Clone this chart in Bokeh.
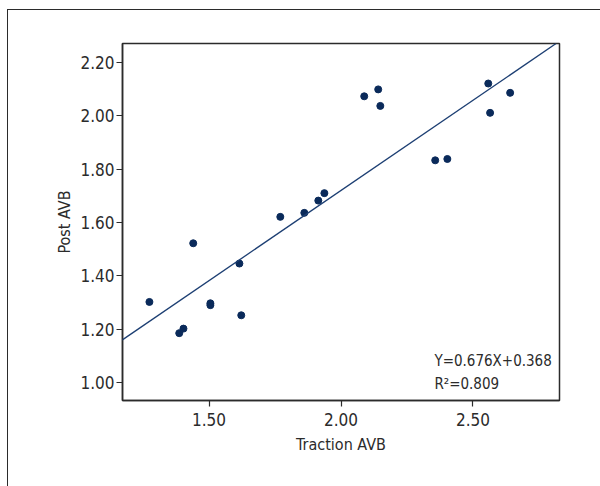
from bokeh.plotting import figure
from bokeh.models import Range1d, FixedTicker, NumeralTickFormatter, Label, Slope
from bokeh.embed import file_html
from bokeh.resources import INLINE

traction = [1.274, 1.387, 1.403, 1.440, 1.505, 1.505, 1.615, 1.622, 1.770, 1.861,
            1.914, 1.937, 2.088, 2.141, 2.149, 2.357, 2.403, 2.558, 2.565, 2.641]
post = [1.302, 1.185, 1.202, 1.522, 1.297, 1.290, 1.446, 1.252, 1.621, 1.636,
        1.682, 1.710, 2.073, 2.099, 2.037, 1.833, 1.838, 2.121, 2.011, 2.086]
slope_val = 0.676
intercept_val = 0.368
r2_val = 0.809
x_ticks = [1.5, 2.0, 2.5]
y_ticks = [1.0, 1.2, 1.4, 1.6, 1.8, 2.0, 2.2]

FONT = "'DejaVu Sans Condensed', Roboto, sans-serif"
DARK = "#2b2b2b"
NAVY = "#0a2a5a"

p = figure(width=593, height=477, output_backend="svg", toolbar_location=None,
           x_range=Range1d(1.172, 2.828), y_range=Range1d(0.9325, 2.271),
           min_border_left=114, min_border_right=42, min_border_top=33, min_border_bottom=87)
p.styles = {"border-left": "1.5px solid #2b2b2b", "border-top": "1.5px solid #2b2b2b",
            "margin-left": "7px", "margin-top": "9px"}

p.xgrid.visible = False
p.ygrid.visible = False
p.outline_line_color = DARK
p.outline_line_width = 1.5

for ax, ticks in ((p.xaxis, x_ticks), (p.yaxis, y_ticks)):
    ax.ticker = FixedTicker(ticks=ticks)
    ax.formatter = NumeralTickFormatter(format="0.00")
    ax.axis_line_color = DARK
    ax.axis_line_width = 1.5
    ax.major_tick_line_color = DARK
    ax.major_tick_line_width = 1.2
    ax.major_tick_in = 0
    ax.major_tick_out = 6
    ax.minor_tick_line_color = None
    ax.major_label_text_font = FONT
    ax.major_label_text_font_size = "17px"
    ax.major_label_text_color = DARK
    ax.axis_label_text_font = FONT
    ax.axis_label_text_font_size = "16px"
    ax.axis_label_text_font_style = "normal"
    ax.axis_label_text_color = DARK

p.xaxis.axis_label = "Traction AVB"
p.yaxis.axis_label = "Post AVB"
p.xaxis.major_label_standoff = 6
p.yaxis.major_label_standoff = 2
p.xaxis.axis_label_standoff = 6
p.yaxis.axis_label_standoff = 3

p.add_layout(Slope(gradient=slope_val, y_intercept=intercept_val,
                   line_color="#1d3f73", line_width=1.3))
p.scatter(traction, post, size=7, fill_color=NAVY, line_color=NAVY)

eq = Label(x=2.354, y=1.079, text=f"Y={slope_val:.3f}X+{intercept_val:.3f}",
           text_font=FONT, text_font_size="15px", text_color=DARK,
           text_baseline="alphabetic")
r2 = Label(x=2.354, y=0.996, text=f"R\u00b2={r2_val:.3f}",
           text_font=FONT, text_font_size="15px", text_color=DARK,
           text_baseline="alphabetic")
p.add_layout(eq)
p.add_layout(r2)

open("out.html", "w").write(file_html(p, INLINE))
